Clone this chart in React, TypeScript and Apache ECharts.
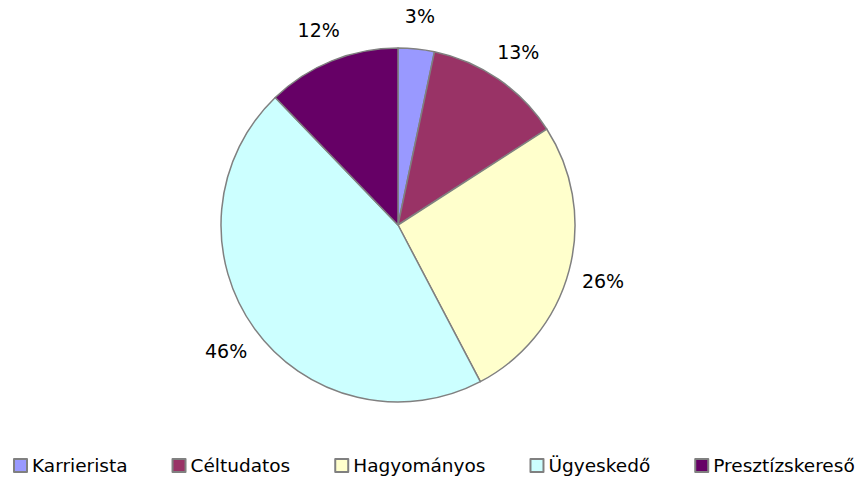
import React, { useEffect, useRef } from "react";
import * as echarts from "echarts";

const categories = ["Karrierista", "Céltudatos", "Hagyományos", "Ügyeskedő", "Presztízskereső"];
const values = [3.3, 12.6, 26.4, 45.5, 12.2];
const colors = ["#9999FF", "#993366", "#FFFFCC", "#CCFFFF", "#660066"];

const FONT = "DejaVu Sans";

export default function App() {
  const ref = useRef<HTMLDivElement>(null);
  useEffect(() => {
    document.body.style.margin = "0";
    const chart = echarts.init(ref.current!, null, { renderer: "svg" });
    const data = categories.map((name, i) => ({ name, value: values[i] }));
    chart.setOption({
      animation: false,
      backgroundColor: "#ffffff",
      color: colors,
      legend: {
        data: categories,
        left: 8,
        top: 451,
        width: 853,
        icon: "rect",
        itemWidth: 13,
        itemHeight: 13,
        itemGap: 44,
        selectedMode: false,
        itemStyle: { borderColor: "#808080", borderWidth: 2 },
        textStyle: { fontFamily: FONT, fontSize: 18.5, color: "#000" },
      },
      series: [
        {
          type: "pie",
          center: [398, 225],
          radius: [0, 177],
          startAngle: 90,
          clockwise: true,
          data,
          itemStyle: { borderColor: "#808080", borderWidth: 1.5 },
          label: { show: false },
          labelLine: { show: false },
          emphasis: { disabled: true },
          silent: true,
        },
        {
          type: "pie",
          center: [398, 227],
          radius: [177, 241],
          startAngle: 90,
          clockwise: true,
          data,
          silent: true,
          legendHoverLink: false,
          itemStyle: { color: "rgba(0,0,0,0)", borderWidth: 0 },
          emphasis: { disabled: true },
          label: {
            show: true,
            position: "inside",
            color: "#000",
            fontFamily: FONT,
            fontSize: 19,
            formatter: (p: any) => Math.round(p.value) + "%",
          },
          labelLine: { show: false },
        },
      ],
    });
    return () => chart.dispose();
  }, []);
  return <div ref={ref} style={{ width: 861, height: 477 }} />;
}
